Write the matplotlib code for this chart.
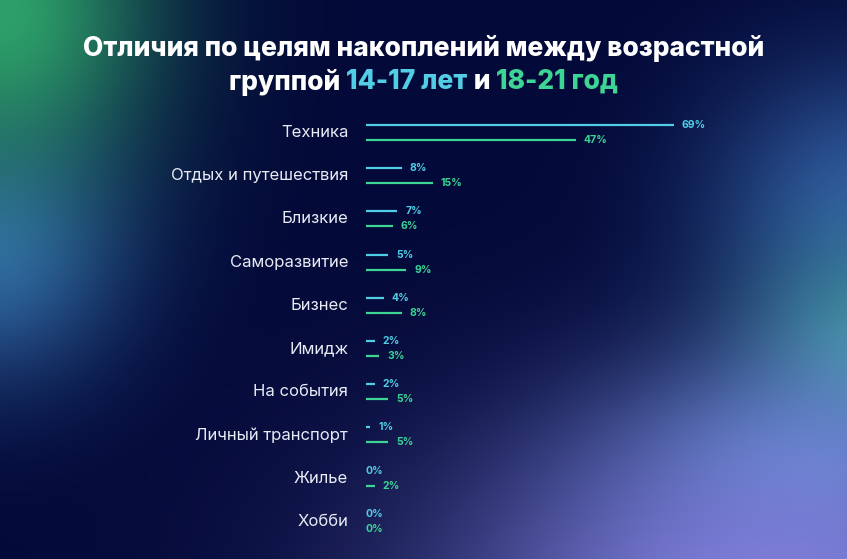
import numpy as np
import matplotlib
matplotlib.use('Agg')
import matplotlib.pyplot as plt

categories = ['Техника', 'Отдых и путешествия', 'Близкие', 'Саморазвитие', 'Бизнес',
              'Имидж', 'На события', 'Личный транспорт', 'Жилье', 'Хобби']
age_14_17 = [69, 8, 7, 5, 4, 2, 2, 1, 0, 0]
age_18_21 = [47, 15, 6, 9, 8, 3, 5, 5, 2, 0]

CYAN = '#52cde6'
GREEN = '#3cd596'
BG = '#030938'
W, H = 847, 559

plt.rcParams['font.family'] = ['Inter', 'DejaVu Sans']


def make_background():
    yy, xx = np.mgrid[0:H, 0:W].astype(float)
    base = np.array([3, 9, 56]) / 255.0
    img = np.ones((H, W, 3)) * base
    # soft glows, painted one over another: (x, y, sx, sy, rgb, alpha)
    glows = [
        (-10, 250, 95, 95, (50, 105, 170), 0.95),
        (0, 10, 110, 125, (45, 160, 105), 1.0),
        (870, 200, 115, 100, (50, 95, 165), 0.9),
        (880, 350, 90, 80, (62, 160, 160), 0.9),
        (810, 470, 140, 80, (95, 145, 210), 0.85),
        (770, 610, 235, 135, (130, 128, 222), 1.0),
    ]
    for gx, gy, sx, sy, rgb, w in glows:
        a = w * np.exp(-((xx - gx) ** 2 / (2 * sx ** 2) + (yy - gy) ** 2 / (2 * sy ** 2)))
        img = img * (1 - a[..., None]) + a[..., None] * (np.array(rgb) / 255.0)
    return np.clip(img, 0, 1)


fig = plt.figure(figsize=(W / 100, H / 100), dpi=100)
fig.patch.set_facecolor(BG)

bg_ax = fig.add_axes([0, 0, 1, 1])
bg_ax.imshow(make_background(), aspect='auto', extent=(0, W, H, 0))
bg_ax.set_xlim(0, W)
bg_ax.set_ylim(H, 0)
bg_ax.axis('off')

# chart area in pixel terms
row_top, row_step = 132.5, 43.2
left_px, width_px = 366, 446
top_px = row_top - row_step / 2
height_px = row_step * len(categories)
ax = fig.add_axes([left_px / W, 1 - (top_px + height_px) / H, width_px / W, height_px / H])
ax.set_xlim(0, 100)
ax.set_ylim(len(categories) - 0.5, -0.5)
ax.axis('off')

y = np.arange(len(categories))
off = 0.175
ax.hlines(y - off, 0, age_14_17, color=CYAN, lw=1.6, capstyle='butt')
ax.hlines(y + off, 0, age_18_21, color=GREEN, lw=1.6, capstyle='butt')

for i, (a, b) in enumerate(zip(age_14_17, age_18_21)):
    ax.text(a + 1.8 if a else 0, i - off, f'{a}%', color=CYAN, fontsize=7.5,
            fontweight='bold', va='center', ha='left')
    ax.text(b + 1.8 if b else 0, i + off, f'{b}%', color=GREEN, fontsize=7.5,
            fontweight='bold', va='center', ha='left')
    ax.text(-4.0, i, categories[i], color='#e8ebf5', fontsize=12, fontweight='normal',
            va='center', ha='right')

# title
TS = 19
fig.text(0.5, 1 - 48 / H, 'Отличия по целям накоплений между возрастной', color='white',
         fontsize=TS, fontweight='heavy', ha='center', va='center')

parts = [('группой ', 'white'), ('14-17 лет', CYAN), (' и ', 'white'), ('18-21 год', GREEN)]
renderer = fig.canvas.get_renderer()
widths = []
for txt, col in parts:
    t = fig.text(0, 0, txt, fontsize=TS, fontweight='heavy')
    widths.append(t.get_window_extent(renderer).width)
    t.remove()
x = (W - sum(widths)) / 2
for (txt, col), wd in zip(parts, widths):
    fig.text(x / W, 1 - 82 / H, txt, color=col, fontsize=TS, fontweight='heavy',
             ha='left', va='center')
    x += wd

fig.savefig('out.png', dpi=100, facecolor=BG)
